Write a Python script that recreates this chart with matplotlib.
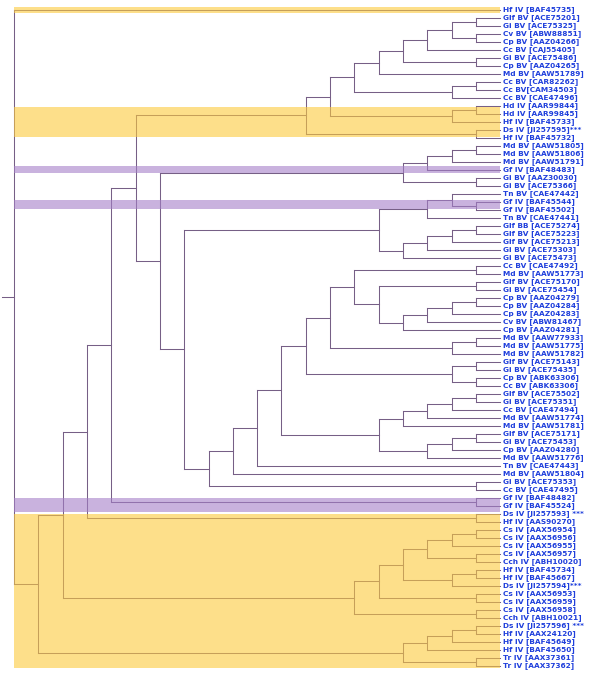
import matplotlib.pyplot as plt

# leaf labels, top to bottom
labels = [
    "Hf IV [BAF45735]", "Glf BV [ACE75201]", "Gi BV [ACE75325]", "Cv BV [ABW88851]",
    "Cp BV [AAZ04266]", "Cc BV [CAJ55405]", "Gi BV [ACE75486]", "Cp BV [AAZ04265]",
    "Md BV [AAW51789]", "Cc BV [CAR82262]", "Cc BV[CAM34503]", "Cc BV [CAE47496]",
    "Hd IV [AAR99844]", "Hd IV [AAR99845]", "Hf IV [BAF45733]", "Ds IV [JI257595]***",
    "Hf IV [BAF45732]", "Md BV [AAW51805]", "Md BV [AAW51806]", "Md BV [AAW51791]",
    "Gf IV [BAF48483]", "Gi BV [AAZ30030]", "Gi BV [ACE75366]", "Tn BV [CAE47442]",
    "Gf IV [BAF45544]", "Gf IV [BAF45502]", "Tn BV [CAE47441]", "Glf BB [ACE75274]",
    "Glf BV [ACE75223]", "Glf BV [ACE75213]", "Gi BV [ACE75303]", "Gi BV [ACE75473]",
    "Cc BV [CAE47492]", "Md BV [AAW51773]", "Glf BV [ACE75170]", "Gi BV [ACE75454]",
    "Cp BV [AAZ04279]", "Cp BV [AAZ04284]", "Cp BV [AAZ04283]", "Cv BV [ABW81467]",
    "Cp BV [AAZ04281]", "Md BV [AAW77933]", "Md BV [AAW51775]", "Md BV [AAW51782]",
    "Glf BV [ACE75143]", "Gi BV [ACE75435]", "Cp BV [ABK63306]", "Cc BV [ABK63306]",
    "Glf BV [ACE75502]", "Gi BV [ACE75351]", "Cc BV [CAE47494]", "Md BV [AAW51774]",
    "Md BV [AAW51781]", "Glf BV [ACE75171]", "Gi BV [ACE75453]", "Cp BV [AAZ04280]",
    "Md BV [AAW51776]", "Tn BV [CAE47443]", "Md BV [AAW51804]", "Gi BV [ACE75353]",
    "Cc BV [CAE47495]", "Gf IV [BAF48482]", "Gf IV [BAF45524]", "Ds IV [JI257593] ***",
    "Hf IV [AAS90270]", "Cs IV [AAX56954]", "Cs IV [AAX56956]", "Cs IV [AAX56955]",
    "Cs IV [AAX56957]", "Cch IV [ABH10020]", "Hf IV [BAF45734]", "Hf IV [BAF45667]",
    "Ds IV [JI257594]***", "Cs IV [AAX56953]", "Cs IV [AAX56959]", "Cs IV [AAX56958]",
    "Cch IV [ABH10021]", "Ds IV [JI257596] ***", "Hf IV [AAX24120]", "Hf IV [BAF45649]",
    "Hf IV [BAF45650]", "Tr IV [AAX37361]", "Tr IV [AAX37362]",
]

# tree topology (nested pairs of leaf indices)
clade_a = ((((((((1, 2), (3, 4)), 5), (6, 7)), 8), ((9, 10), 11)), ((12, 13), 14)), (15, 16))
clade_d = ((((17, 18), 19), 20), (21, 22))
clade_c = (((23, (24, 25)), 26), ((((27, 28), 29), 30), 31))
clade_b1 = ((((32, 33), ((34, 35), ((((36, 37), 38), 39), 40))), ((41, 42), 43)),
            ((44, 45), (46, 47)))
clade_b2 = (((((48, 49), 50), 51), 52), (((53, 54), 55), 56))
clade_b = ((((clade_b1, clade_b2), 57), 58), (59, 60))
clade_e = ((((((65, 66), 67), (68, 69)), ((70, 71), 72)), (73, 74)), (75, 76))
clade_f = ((((77, 78), 79), 80), (81, 82))
tree = (0, (((((clade_a, (clade_d, (clade_c, clade_b))), (61, 62)), (63, 64)), clade_e), clade_f))

# highlighted rows: (from leaf, to leaf, colour)
bands = [
    (-0.4, 0.4, '#fccb3c'),
    (12.1, 15.9, '#fccb3c'),
    (19.5, 20.4, '#a580c8'),
    (23.75, 24.9, '#a580c8'),
    (61.0, 62.7, '#a580c8'),
    (63.0, 82.2, '#fccb3c'),
]

TIP = 20
line_col = '#765f86'

fig = plt.figure(figsize=(6, 6.8), dpi=100)
ax = fig.add_axes([0, 0, 1, 1])


def draw(node):
    # returns (y, height) of the node and draws its branches
    if isinstance(node, int):
        return node, 0
    kids = [draw(c) for c in node]
    h = max(k[1] for k in kids) + 1
    x = TIP - h
    ys = [k[0] for k in kids]
    ax.plot([x, x], [min(ys), max(ys)], color=line_col, lw=0.75, zorder=2)
    for y, kh in kids:
        ax.plot([x, TIP - kh], [y, y], color=line_col, lw=0.75, zorder=2)
    return sum(ys) / len(ys), h


root_y, root_h = draw(tree)
ax.plot([TIP - root_h - 0.5, TIP - root_h], [root_y, root_y], color=line_col, lw=0.75)

for y0, y1, c in bands:
    ax.fill_between([0, TIP], y0, y1, color=c, alpha=0.6, lw=0, zorder=3)

for i, lab in enumerate(labels):
    ax.text(TIP + 0.12, i, lab, color='#1f3fdc', fontsize=5.3, fontweight='bold',
            va='center', ha='left', family='DejaVu Sans', zorder=4)

ax.set_xlim(-0.576, 24.1)
ax.set_ylim(83.75, -1.25)
ax.axis('off')

fig.savefig('out.png', dpi=100, facecolor='white')
